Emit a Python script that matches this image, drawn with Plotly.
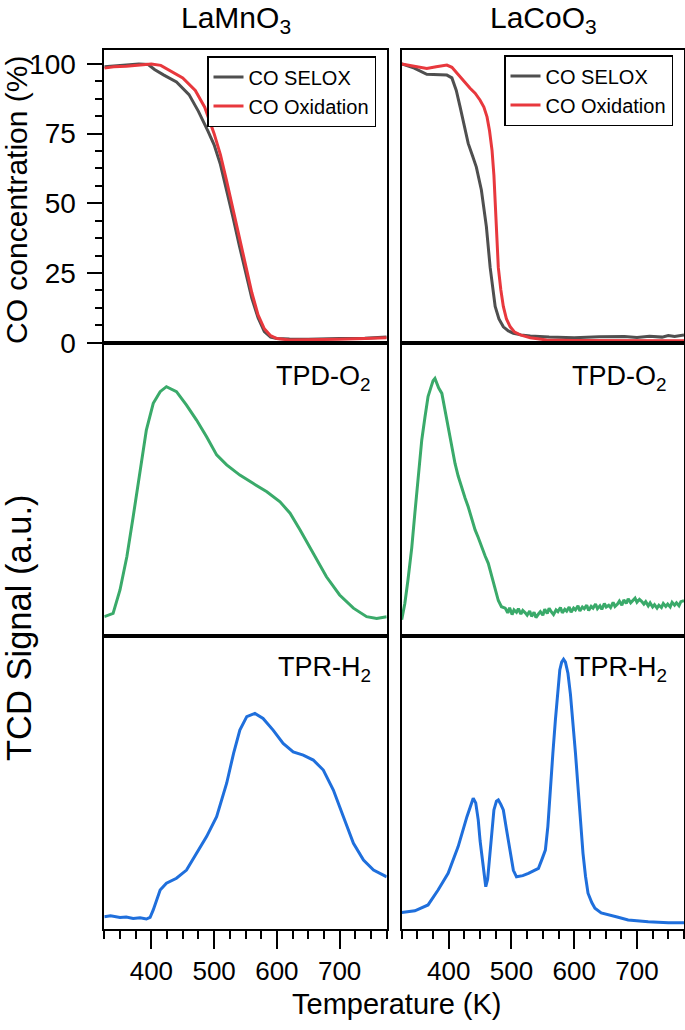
import plotly.graph_objects as go

# ---------------- data ----------------
# Top row: CO concentration (%) vs Temperature (K)
mn_selox_T = [325, 340, 360, 380, 395, 405, 420, 440, 460, 475, 490, 500, 510, 520, 530, 540, 550, 560, 570, 580, 590, 600, 620, 650, 700, 740, 775]
mn_selox_C = [99.0, 99.2, 99.5, 100.0, 99.8, 98.0, 96.0, 93.5, 89.0, 83.0, 76.0, 71.0, 64.0, 55.0, 45.0, 35.0, 25.0, 16.0, 9.0, 4.0, 2.0, 1.5, 1.3, 1.2, 1.5, 1.6, 2.0]
mn_oxi_T = [325, 340, 360, 380, 400, 415, 430, 450, 470, 485, 500, 510, 520, 530, 540, 550, 560, 570, 580, 590, 600, 620, 650, 700, 740, 775]
mn_oxi_C = [98.5, 99.0, 99.2, 99.6, 100.0, 99.5, 97.5, 95.0, 90.5, 84.5, 75.0, 67.5, 58.0, 48.0, 38.0, 28.0, 18.0, 10.0, 5.0, 2.5, 1.5, 1.0, 1.0, 1.2, 1.5, 1.8]

co_selox_T = [325, 345, 365, 385, 397, 405, 412, 418, 425, 431, 438, 444, 452, 460, 466, 470, 474, 480, 487, 495, 503, 515, 530, 560, 600, 640, 680, 700, 720, 740, 750, 760, 775]
co_selox_C = [100.0, 98.5, 96.3, 96.0, 96.0, 95.0, 90.5, 84.7, 77.0, 71.5, 67.0, 63.0, 54.8, 41.6, 27.0, 19.0, 13.0, 8.5, 5.7, 4.2, 3.4, 2.8, 2.4, 2.0, 1.8, 2.1, 2.2, 1.9, 2.3, 2.0, 2.6, 2.2, 2.8]
co_oxi_T = [325, 345, 365, 380, 397, 405, 413, 423, 434, 442, 450, 456, 461, 465, 469, 472, 474, 477, 479, 483, 487, 492, 498, 505, 514, 530, 556, 600, 650, 700, 775]
co_oxi_C = [100.0, 99.2, 98.4, 99.0, 99.6, 98.8, 96.7, 94.0, 91.3, 89.5, 87.0, 84.5, 81.0, 76.0, 69.0, 60.0, 48.8, 38.0, 27.0, 19.0, 13.0, 8.5, 5.7, 3.8, 2.8, 1.8, 1.0, 0.8, 0.7, 0.7, 0.7]

# Middle row: TPD-O2 (a.u.)
mn_tpd_T = [325, 339, 350, 361, 371, 382, 392, 403, 414, 424, 440, 456, 472, 488, 504, 520, 541, 562, 584, 605, 621, 637, 658, 679, 700, 722, 743, 759, 775]
mn_tpd_S = [0.065, 0.076, 0.156, 0.270, 0.406, 0.554, 0.702, 0.793, 0.833, 0.850, 0.833, 0.787, 0.736, 0.679, 0.617, 0.583, 0.548, 0.520, 0.491, 0.457, 0.418, 0.361, 0.281, 0.201, 0.139, 0.094, 0.065, 0.059, 0.065]

co_tpd_T = [325, 330, 335, 341, 346, 351, 357, 362, 367, 372, 375, 378, 381, 384, 389, 394, 399, 404, 410, 415, 420, 426, 431, 436, 442, 447, 452, 458, 463, 468, 474, 479, 484, 490,
            494, 497, 501, 504, 508, 511, 515, 518, 522, 525, 529, 532, 536, 539, 543, 546, 550, 553, 557, 560, 564, 567, 571, 574, 578, 581, 585, 588, 592, 595, 599, 602, 606, 609,
            613, 616, 620, 623, 627, 630, 634, 637, 641, 644, 648, 651, 655, 658, 662, 665, 669, 672, 676, 679, 683, 686, 690, 693, 697, 700, 704, 707, 711, 714, 718, 721, 725,
            728, 732, 735, 739, 742, 746, 749, 753, 756, 760, 763, 767, 770, 775]
co_tpd_S = [0.055, 0.110, 0.190, 0.300, 0.418, 0.530, 0.668, 0.745, 0.816, 0.850, 0.870, 0.878, 0.862, 0.845, 0.827, 0.770, 0.713, 0.660, 0.588, 0.545, 0.508, 0.470, 0.440, 0.405, 0.361, 0.335, 0.304, 0.272, 0.247, 0.205, 0.156, 0.120, 0.099, 0.094,
            0.078, 0.095, 0.072, 0.088, 0.080, 0.092, 0.074, 0.086, 0.078, 0.070, 0.084, 0.066, 0.080, 0.062, 0.074, 0.082, 0.070, 0.090, 0.076, 0.094, 0.080, 0.072, 0.088, 0.082, 0.096, 0.078, 0.090, 0.084, 0.098, 0.080, 0.094, 0.088, 0.102, 0.084,
            0.098, 0.092, 0.104, 0.086, 0.100, 0.094, 0.108, 0.092, 0.102, 0.090, 0.110, 0.098, 0.104, 0.096, 0.114, 0.100, 0.108, 0.118, 0.104, 0.122, 0.110, 0.126, 0.112, 0.120, 0.128, 0.114, 0.124, 0.118, 0.108, 0.116, 0.102, 0.112, 0.098,
            0.106, 0.094, 0.104, 0.096, 0.110, 0.100, 0.108, 0.098, 0.114, 0.104, 0.112, 0.102, 0.116, 0.120]

# Bottom row: TPR-H2 (a.u.)
mn_tpr_T = [325, 335, 350, 360, 371, 382, 392, 398, 403, 409, 414, 424, 440, 456, 472, 488, 504, 520, 531, 541, 552, 565, 578, 594, 610, 626, 642, 658, 674, 690, 706, 722, 738, 754, 775]
mn_tpr_S = [0.042, 0.045, 0.039, 0.041, 0.036, 0.038, 0.034, 0.040, 0.065, 0.105, 0.133, 0.156, 0.173, 0.201, 0.258, 0.315, 0.383, 0.497, 0.599, 0.678, 0.724, 0.735, 0.718, 0.678, 0.633, 0.604, 0.593, 0.576, 0.542, 0.474, 0.383, 0.292, 0.235, 0.201, 0.178]

co_tpr_T = [325, 346, 367, 383, 399, 415, 429, 435, 439, 443, 447, 450, 454, 459, 462, 466, 469, 472, 476, 479, 483, 487, 492, 498, 503, 508, 518, 527, 535, 543, 549, 554, 558, 562, 566, 570, 574, 577, 580, 583, 586, 590, 594, 598, 602, 606, 610, 614, 618, 622, 628, 633, 643, 654, 670, 686, 702, 718, 734, 750, 775]
co_tpr_S = [0.056, 0.062, 0.082, 0.133, 0.190, 0.281, 0.383, 0.425, 0.446, 0.430, 0.372, 0.300, 0.224, 0.144, 0.170, 0.258, 0.340, 0.406, 0.436, 0.440, 0.425, 0.406, 0.340, 0.258, 0.200, 0.178, 0.182, 0.190, 0.198, 0.207, 0.240, 0.269, 0.350, 0.485, 0.600, 0.713, 0.820, 0.883, 0.910, 0.920, 0.910, 0.872, 0.800, 0.713, 0.600, 0.485, 0.370, 0.258, 0.180, 0.122, 0.090, 0.071, 0.055, 0.048, 0.040, 0.031, 0.027, 0.025, 0.023, 0.021, 0.021]

x_ticks = [400, 500, 600, 700]
y_ticks = [0, 25, 50, 75, 100]

# ---------------- style ----------------
FONT = "Liberation Sans, Arial, Helvetica, sans-serif"
GRAY = "#4f4f4f"
RED = "#e8383d"
GREEN = "#3aaa6a"
BLUE = "#1f6fdc"
LW = 3
XTICK_FS = 26
YTICK_FS = 28

W, H = 685, 1030
def fx(px):
    return px / W
def fy(py):
    return 1 - py / H

col_x = [(fx(104.3), fx(386.7)), (fx(401.7), fx(684.0))]
row_y = [(fy(342.7), fy(50.0)), (fy(635.7), fy(342.7)), (fy(929.0), fy(635.7))]

fig = go.Figure()

series = [
    (0, 0, mn_selox_T, mn_selox_C, GRAY, "CO SELOX", "legend"),
    (0, 0, mn_oxi_T, mn_oxi_C, RED, "CO Oxidation", "legend"),
    (0, 1, co_selox_T, co_selox_C, GRAY, "CO SELOX", "legend2"),
    (0, 1, co_oxi_T, co_oxi_C, RED, "CO Oxidation", "legend2"),
    (1, 0, mn_tpd_T, mn_tpd_S, GREEN, None, None),
    (1, 1, co_tpd_T, co_tpd_S, GREEN, None, None),
    (2, 0, mn_tpr_T, mn_tpr_S, BLUE, None, None),
    (2, 1, co_tpr_T, co_tpr_S, BLUE, None, None),
]

def axis_index(r, c):
    return r * 2 + c + 1

for r, c, T, V, color, name, leg in series:
    i = axis_index(r, c)
    kw = dict(x=T, y=V, mode="lines", line=dict(color=color, width=LW),
              xaxis="x" if i == 1 else f"x{i}", yaxis="y" if i == 1 else f"y{i}")
    if name:
        kw.update(name=name, showlegend=True, legend=leg)
    else:
        kw.update(showlegend=False)
    fig.add_trace(go.Scatter(**kw))

layout = {}
for r in range(3):
    for c in range(2):
        i = axis_index(r, c)
        xk = "xaxis" if i == 1 else f"xaxis{i}"
        yk = "yaxis" if i == 1 else f"yaxis{i}"
        bottom = (r == 2)
        xa = dict(domain=list(col_x[c]), range=[325, 775], anchor="y" if i == 1 else f"y{i}",
                  showline=True, mirror=True, linecolor="black", linewidth=1.5,
                  showgrid=False, zeroline=False, automargin=False,
                  tickfont=dict(size=XTICK_FS, color="black", family=FONT))
        if bottom:
            xa.update(ticks="outside", ticklen=18, tickwidth=1.5, tickcolor="black",
                      tickvals=x_ticks, showticklabels=True,
                      minor=dict(ticks="outside", ticklen=8, tickwidth=1.5, tickcolor="black", dtick=25, tick0=325))
        else:
            xa.update(ticks="", showticklabels=False)
        ya = dict(domain=list(row_y[r]), anchor="x" if i == 1 else f"x{i}",
                  showline=True, mirror=True, linecolor="black", linewidth=1.5,
                  showgrid=False, zeroline=False, automargin=False,
                  tickfont=dict(size=YTICK_FS, color="black", family=FONT))
        if r == 0:
            ya.update(range=[0, 105])
            if c == 0:
                ya.update(ticks="outside", ticklen=16, tickwidth=1.5, tickcolor="black",
                          tickvals=y_ticks, showticklabels=True, ticklabelstandoff=5,
                          minor=dict(ticks="outside", ticklen=8, tickwidth=1.5, tickcolor="black", dtick=6.25, tick0=0))
            else:
                ya.update(ticks="", showticklabels=False)
        else:
            ya.update(range=[0, 1], ticks="", showticklabels=False)
        layout[xk] = xa
        layout[yk] = ya

leg_common = dict(font=dict(size=20, color="black", family=FONT), bgcolor="white",
                  bordercolor="black", borderwidth=1.5, xanchor="left", yanchor="top",
                  itemwidth=30, tracegroupgap=0)
layout["legend"] = dict(x=fx(207), y=fy(56), **leg_common)
layout["legend2"] = dict(x=fx(504), y=fy(55), **leg_common)

def ann(text, x, y, size, xref="paper", yref="paper", xanchor="center", yanchor="middle", angle=0):
    return dict(text=text, x=x, y=y, xref=xref, yref=yref, xanchor=xanchor, yanchor=yanchor,
                showarrow=False, textangle=angle, font=dict(size=size, color="black", family=FONT))

annotations = [
    ann("LaMnO<sub>3</sub>", fx(236), fy(20), 30),
    ann("LaCoO<sub>3</sub>", fx(543), fy(20), 30),
    ann("CO concentration (%)", fx(16), fy(200), 30, angle=-90),
    ann("TCD Signal (a.u.)", fx(19), fy(628), 34.5, angle=-90),
    ann("Temperature (K)", fx(397), fy(1004), 29),
    ann("TPD-O<sub>2</sub>", 0.95, 0.88, 27, xref="x3 domain", yref="y3 domain", xanchor="right"),
    ann("TPD-O<sub>2</sub>", 0.947, 0.88, 27, xref="x4 domain", yref="y4 domain", xanchor="right"),
    ann("TPR-H<sub>2</sub>", 0.95, 0.885, 27, xref="x5 domain", yref="y5 domain", xanchor="right"),
    ann("TPR-H<sub>2</sub>", 0.947, 0.885, 27, xref="x6 domain", yref="y6 domain", xanchor="right"),
]

fig.update_layout(
    width=W, height=H,
    margin=dict(l=0, r=0, t=0, b=0, autoexpand=False),
    paper_bgcolor="white", plot_bgcolor="white",
    font=dict(family=FONT, color="black"),
    annotations=annotations,
    **layout,
)

fig.write_html(
    "out.html",
    config={"displayModeBar": False},
    post_script="document.body.style.margin='0';document.body.style.padding='0';"
                "document.body.style.overflow='hidden';document.documentElement.style.overflow='hidden';",
)
